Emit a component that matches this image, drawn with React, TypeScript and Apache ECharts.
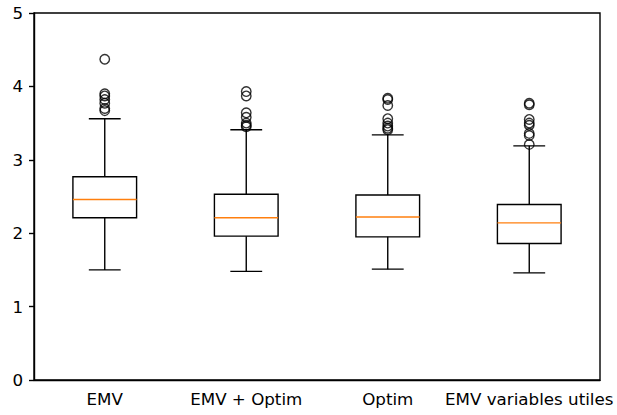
import React, { useEffect, useRef } from "react";
import * as echarts from "echarts";

const categories = ["EMV", "EMV + Optim", "Optim", "EMV variables utiles"];
// [lowerWhisker, Q1, median, Q3, upperWhisker]
const boxStats = [
  [1.5, 2.21, 2.46, 2.77, 3.56],
  [1.48, 1.96, 2.21, 2.53, 3.41],
  [1.51, 1.95, 2.22, 2.52, 3.34],
  [1.46, 1.86, 2.14, 2.39, 3.19],
];
const outliers = [
  [4.37, 3.9, 3.87, 3.82, 3.77, 3.7, 3.67],
  [3.93, 3.87, 3.64, 3.58, 3.5, 3.47, 3.45],
  [3.84, 3.82, 3.74, 3.56, 3.5, 3.46, 3.43, 3.41],
  [3.77, 3.75, 3.55, 3.5, 3.47, 3.36, 3.33, 3.21],
];
const yTicks = [0, 1, 2, 3, 4, 5];

export default function App() {
  const ref = useRef<HTMLDivElement>(null);
  useEffect(() => {
    if (!ref.current) return;
    const chart = echarts.init(ref.current, null, { renderer: "svg" });
    const font = "DejaVu Sans";
    const lw = 1.4;
    const outlierData: number[][] = [];
    outliers.forEach((arr, i) => arr.forEach((v) => outlierData.push([i, v])));
    chart.setOption({
      animation: false,
      backgroundColor: "#fff",
      grid: {
        left: 34,
        right: 17,
        top: 13,
        bottom: 35,
        show: true,
        borderColor: "#000",
        borderWidth: lw,
      },
      xAxis: {
        type: "category",
        data: categories,
        boundaryGap: true,
        axisLine: { lineStyle: { color: "#000", width: lw } },
        axisTick: { alignWithLabel: true, length: 5, lineStyle: { color: "#000", width: lw } },
        axisLabel: { color: "#000", fontFamily: font, fontSize: 16.7, margin: 10.5, interval: 0 },
        splitLine: { show: false },
      },
      yAxis: {
        type: "value",
        min: yTicks[0],
        max: yTicks[yTicks.length - 1],
        interval: 1,
        axisLine: { show: true, lineStyle: { color: "#000", width: lw } },
        axisTick: { show: true, length: 5, lineStyle: { color: "#000", width: lw } },
        axisLabel: { color: "#000", fontFamily: font, fontSize: 16.7, margin: 11 },
        splitLine: { show: false },
      },
      series: [
        {
          type: "custom",
          data: boxStats.map((s, i) => [i, ...s]),
          renderItem: (params: any, api: any) => {
            const idx = api.value(0);
            const lo = api.coord([idx, api.value(1)]);
            const q1 = api.coord([idx, api.value(2)]);
            const med = api.coord([idx, api.value(3)]);
            const q3 = api.coord([idx, api.value(4)]);
            const hi = api.coord([idx, api.value(5)]);
            const band = api.size([1, 0])[0];
            const bw = band * 0.45;
            const cw = bw * 0.5;
            const x = lo[0];
            const black = { stroke: "#000", lineWidth: lw, fill: "none" };
            return {
              type: "group",
              children: [
                { type: "line", shape: { x1: x, y1: lo[1], x2: x, y2: q1[1] }, style: black },
                { type: "line", shape: { x1: x, y1: q3[1], x2: x, y2: hi[1] }, style: black },
                { type: "line", shape: { x1: x - cw / 2, y1: lo[1], x2: x + cw / 2, y2: lo[1] }, style: black },
                { type: "line", shape: { x1: x - cw / 2, y1: hi[1], x2: x + cw / 2, y2: hi[1] }, style: black },
                { type: "rect", shape: { x: x - bw / 2, y: q3[1], width: bw, height: q1[1] - q3[1] }, style: { stroke: "#000", lineWidth: lw, fill: "none" } },
                { type: "line", shape: { x1: x - bw / 2, y1: med[1], x2: x + bw / 2, y2: med[1] }, style: { stroke: "#ff7f0e", lineWidth: lw } },
              ],
            };
          },
        },
        {
          type: "scatter",
          data: outlierData,
          symbol: "circle",
          symbolSize: 9.5,
          itemStyle: { color: "rgba(0,0,0,0)", borderColor: "#000", borderWidth: lw },
        },
      ],
    });
    return () => chart.dispose();
  }, []);
  return (
    <div
      ref={ref}
      style={{ position: "fixed", left: 0, top: 0, width: 617, height: 415, background: "#fff" }}
    />
  );
}
